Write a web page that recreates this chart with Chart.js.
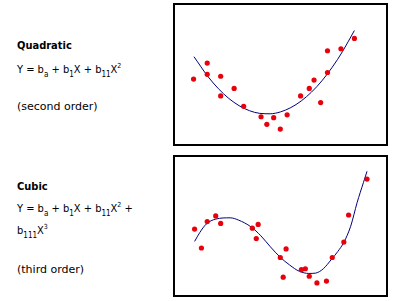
<!DOCTYPE html>
<html>
<head>
<meta charset="utf-8">
<script src="https://cdn.jsdelivr.net/npm/chart.js"></script>
<style>
  body { margin: 0; background: #fff; width: 393px; height: 301px; overflow: hidden; position: relative; }
  .txt { position: absolute; left: 17px; font-family: "DejaVu Sans", sans-serif; font-size: 11px; color: #000; white-space: nowrap; line-height: 14px; }
  .title { font-family: "DejaVu Sans Condensed", "DejaVu Sans", sans-serif; font-weight: bold; }
  .eq { font-family: "DejaVu Sans Condensed", "DejaVu Sans", sans-serif; }
  sub { font-size: 8px; vertical-align: -4px; line-height: 0; }
  sup { font-size: 7px; vertical-align: 5px; line-height: 0; }
  canvas { position: absolute; }
  .frame { position: absolute; border: 2px solid #000; box-sizing: border-box; pointer-events: none; }
</style>
</head>
<body>
<div class="txt title" style="top:39px">Quadratic</div>
<div class="txt eq" style="top:63px">Y = b<sub>a</sub> + b<sub>1</sub>X + b<sub>11</sub>X<sup>2</sup></div>
<div class="txt" style="top:100px">(second order)</div>

<div class="txt title" style="top:180px">Cubic</div>
<div class="txt eq" style="top:202px">Y = b<sub>a</sub> + b<sub>1</sub>X + b<sub>11</sub>X<sup>2</sup> +</div>
<div class="txt eq" style="top:224px">b<sub>111</sub>X<sup>3</sup></div>
<div class="txt" style="top:263px">(third order)</div>

<canvas id="quad" width="215" height="143" style="left:173px; top:3px"></canvas>
<div class="frame" style="left:173px; top:3px; width:215px; height:143px"></div>
<canvas id="cubic" width="215" height="142" style="left:173px; top:155px"></canvas>
<div class="frame" style="left:173px; top:155px; width:215px; height:142px"></div>

<script>
// quadratic panel: observations and fitted curve
const quadX = [0.80, 1.46, 1.46, 2.11, 2.11, 2.76, 3.22, 4.06, 4.34, 4.67, 4.99, 5.32, 5.97, 6.39, 6.62, 6.94, 7.27, 7.27, 7.92, 8.57];
const quadY = [4.66, 5.85, 5.01, 4.87, 3.41, 3.97, 2.64, 1.87, 1.31, 1.80, 0.96, 2.01, 3.41, 3.97, 4.59, 2.92, 5.15, 6.76, 6.90, 7.67];
const quadFitX = [0.82, 1.5, 2, 2.5, 3, 3.5, 4, 4.5, 5, 5.5, 6, 6.5, 7, 7.5, 8, 8.57];
const quadFitY = [6.32, 4.84, 3.95, 3.23, 2.69, 2.32, 2.12, 2.09, 2.23, 2.55, 3.04, 3.70, 4.53, 5.54, 6.71, 8.26];

// cubic panel
const cubX = [0.85, 1.18, 1.46, 1.87, 2.11, 3.64, 3.92, 3.83, 4.99, 5.27, 5.13, 6.01, 6.20, 6.39, 6.76, 7.22, 7.50, 8.06, 8.29, 9.18];
const cubY = [4.77, 3.36, 5.33, 5.75, 5.19, 4.84, 5.12, 4.06, 2.65, 3.29, 1.18, 1.74, 1.81, 1.25, 0.75, 0.89, 2.65, 3.80, 5.82, 8.50];
const cubFitX = [0.85, 1.10, 1.41, 1.88, 2.57, 2.96, 3.58, 4.05, 4.51, 4.98, 5.44, 5.91, 6.37, 6.68, 7.07, 7.46, 7.77, 8.06, 8.39, 8.70, 9.01, 9.18];
const cubFitY = [3.85, 4.51, 5.14, 5.52, 5.61, 5.45, 4.93, 4.27, 3.45, 2.68, 2.09, 1.62, 1.46, 1.48, 1.81, 2.51, 3.10, 3.78, 4.98, 6.74, 8.26, 9.08];

const toPts = (xs, ys) => xs.map((x, i) => ({ x: x, y: ys[i] }));

function drawPanel(id, xs, ys, fx, fy) {
    new Chart(document.getElementById(id), {
        type: 'scatter',
        data: {
            datasets: [
                {
                    data: toPts(xs, ys),
                    backgroundColor: '#e8000b',
                    borderWidth: 0,
                    pointRadius: 2.6,
                    order: 0
                },
                {
                    data: toPts(fx, fy),
                    showLine: true,
                    borderColor: '#00007a',
                    borderWidth: 1,
                    pointRadius: 0,
                    tension: 0.4,
                    cubicInterpolationMode: 'monotone',
                    order: 1
                }
            ]
        },
        options: {
            responsive: false,
            animation: false,
            devicePixelRatio: 1,
            layout: { padding: 0 },
            plugins: { legend: { display: false }, tooltip: { enabled: false } },
            scales: {
                x: { type: 'linear', min: 0, max: 10, display: false },
                y: { type: 'linear', min: 0, max: 10, display: false }
            }
        }
    });
}

drawPanel('quad', quadX, quadY, quadFitX, quadFitY);
drawPanel('cubic', cubX, cubY, cubFitX, cubFitY);
</script>
</body>
</html>
